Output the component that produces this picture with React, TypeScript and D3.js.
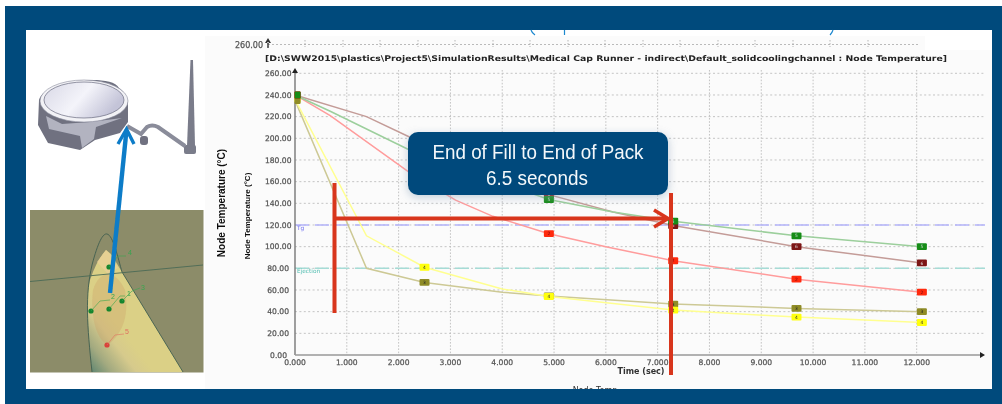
import React from "react";
import * as d3 from "d3";

const title = "[D:\\SWW2015\\plastics\\Project5\\SimulationResults\\Medical Cap Runner - indirect\\Default_solidcoolingchannel : Node Temperature]";
const xTicks = [0, 1, 2, 3, 4, 5, 6, 7, 8, 9, 10, 11, 12];
const yTicks = [0, 20, 40, 60, 80, 100, 120, 140, 160, 180, 200, 220, 240, 260];
const markerTimes = [2.5, 4.9, 7.3, 9.68, 12.1];
const startTime = 0.05;

const brownSeries: [number, number][] = [[0, 240], [1.38, 220], [2.22, 201], [4.9, 148], [6.14, 132], [7.3, 119.5], [9.68, 100], [12.1, 85]];
const greenSeries: [number, number][] = [[0, 240], [0.68, 225], [2.22, 189], [4.9, 143.5], [6.14, 132], [7.3, 123.5], [9.68, 110], [12.1, 100]];
const redSeries: [number, number][] = [[0, 240], [0.68, 221], [2.22, 168], [3.1, 143], [3.82, 128], [4.9, 112], [6, 100], [7.3, 87], [9.68, 70], [12.1, 58]];
const yellowSeries: [number, number][] = [[0, 236], [1.38, 110], [2.5, 81], [4, 61], [4.9, 54], [7.3, 41.5], [9.68, 35], [12.1, 30]];
const oliveSeries: [number, number][] = [[0, 235], [1.38, 80], [2.5, 67], [4, 58], [4.9, 54.5], [7.3, 47], [9.68, 43], [12.1, 40]];

const brown = { id: "6", data: brownSeries, line: "#c49c98", mark: "#7c1414", ink: "#ddd" };
const red = { id: "2", data: redSeries, line: "#ff9c9c", mark: "#ff2a10", ink: "#600" };
const green = { id: "5", data: greenSeries, line: "#9ccf9c", mark: "#128c18", ink: "#ddd" };
const olive = { id: "3", data: oliveSeries, line: "#cdc995", mark: "#8f8c28", ink: "#222" };
const yellow = { id: "4", data: yellowSeries, line: "#ffff90", mark: "#ffff10", ink: "#333" };
const seriesList = [brown, red, green, olive, yellow];
const startOrder = [yellow, olive, brown, red, green];

const referenceLines = [
  { name: "Tg", value: 120, color: "#b4b4fa", ink: "#6a6af0" },
  { name: "Ejection", value: 80, color: "#a6dcd6", ink: "#50bdb0" },
];

const topTicks = [268, 305, 343, 380, 418, 455, 493, 530, 568, 605, 643, 680, 718, 755, 793, 830, 868];
const fill = "#004a7c";

export default function App() {
  const x = d3.scaleLinear().domain([0, 12]).range([295, 916.7]);
  const y = d3.scaleLinear().domain([0, 260]).range([355, 73.3]);
  const line = d3.line<[number, number]>().x((d) => x(d[0])).y((d) => y(d[1]));
  const interp = (data: [number, number][], t: number) =>
    d3.scaleLinear().domain(data.map((d) => d[0])).range(data.map((d) => d[1]))(t);
  const axisFont = { fontFamily: "'DejaVu Sans'", fontSize: 7.6, fill: "#555", stroke: "#555", strokeWidth: 0.25 };
  return (
    <svg width={1002} height={404} viewBox="0 0 1002 404" style={{ position: "fixed", left: 0, top: 0, display: "block", background: "#fff" }}>
      <defs>
        <filter id="soft" x="-5%" y="-5%" width="110%" height="110%"><feGaussianBlur stdDeviation="0.7" /></filter>
        <filter id="soft2" x="-10%" y="-10%" width="120%" height="120%"><feGaussianBlur stdDeviation="0.45" /></filter>
        <filter id="soft3" x="-30%" y="-30%" width="160%" height="160%"><feGaussianBlur stdDeviation="5" /></filter>
        <clipPath id="panel"><rect x={26} y={30} width={966} height={359} /></clipPath>
        <linearGradient id="cone" gradientUnits="userSpaceOnUse" x1="84" y1="372" x2="128" y2="338">
          <stop offset="0" stopColor="#4a7a6c" />
          <stop offset="0.4" stopColor="#a3aa80" />
          <stop offset="0.75" stopColor="#d6ca8c" />
          <stop offset="1" stopColor="#dbd086" />
        </linearGradient>
        <linearGradient id="capTop" x1="0" x2="1" y1="0" y2="0.4">
          <stop offset="0" stopColor="#d8d8e6" />
          <stop offset="0.55" stopColor="#f4f4fa" />
          <stop offset="1" stopColor="#c4c4d8" />
        </linearGradient>
      </defs>

      <rect x={5} y={6} width={997} height={398} fill={fill} />
      <rect x={26} y={30} width={966} height={359} fill="#fff" />
      <rect x={205} y={50} width={787} height={339} fill="#fbfbfb" />
      <rect x={205} y={36} width={720} height={14} fill="#fbfbfb" />

      {/* left illustrations */}
      <g filter="url(#soft)">
        <path d="M190.5 60 L193 60 L195 146 L187 146 Z" fill="#7a7c8a" />
        <rect x={184} y={145} width={12} height={9} rx={2} fill="#7a7c8a" />
        <path d="M127 126 L141 134 L147 127 Q152 124 158 127 L185 146" fill="none" stroke="#8a8c9a" strokeWidth={4} />
        <rect x={140} y={136} width={8} height={9} rx={3} fill="#6f7180" />
        <path d="M39 100 C42 88 70 79 92 80 C105 80 116 82 119 88 C126 93 128 100 128 105 L128 122 L120 133 L95 140 L80 150 L48 143 L38 125 Z" fill="#6f7180" />
        <path d="M46 116 L49 129 L80 136 L82 148 L94 139 L96 127 L122 118 L90 122 L62 124 Z" fill="#b2b3c0" />
        <ellipse cx={84} cy={101} rx={44} ry={21} fill="#f2f2f6" stroke="#8a8c9c" strokeWidth={0.6} />
        <ellipse cx={84} cy={100} rx={40} ry={18} fill="url(#capTop)" stroke="#6a6c80" strokeWidth={0.7} />

        <rect x={30} y={210} width={173.5} height={162.5} fill="#8c8c69" />
        <path d="M92 372 C87 325 86 295 90 280 C94 268 99 258 106 250 L111 254 L122 272 L183 372 Z" fill="url(#cone)" />
        <path d="M93 290 C100 268 116 270 125 290 C130 320 120 335 108 345 C96 340 90 315 93 290 Z" fill="#c99a62" opacity={0.3} />
        <path d="M97 262 L106 250 L112 256 L118 268 L108 274 Z" fill="#e9cf96" opacity={0.8} />
        <path d="M92 372 C87 325 85 295 92 265 C98 242 103 233 107 234 C113 235 118 258 122 272 L183 372" fill="none" stroke="#3f5d4f" strokeWidth={0.9} />
        <line x1={30} y1={281.5} x2={203} y2={265} stroke="#4b6a56" strokeWidth={0.9} />
        <g fill="#13852f">
          <circle cx={109} cy={267} r={2.6} />
          <circle cx={91} cy={311} r={2.6} />
          <circle cx={109} cy={309} r={2.6} />
          <circle cx={122} cy={301} r={2.6} />
        </g>
        <circle cx={107} cy={345} r={2.6} fill="#d9423a" />
        <g fill="none" stroke="#37a64f" strokeWidth={0.6}>
          <path d="M109 267 L118 256 L126 256" />
          <path d="M91 311 L100 301 L110 300" />
          <path d="M109 309 L120 296 L125 296" />
          <path d="M122 301 L132 291 L140 288" />
        </g>
        <path d="M107 345 L115 335 L124 334" fill="none" stroke="#e0705f" strokeWidth={0.6} />
        <g fontFamily="'Liberation Sans'" fontSize={7}>
          <text x={128} y={255} fill="#37a64f">4</text>
          <text x={141} y={290} fill="#37a64f">3</text>
          <text x={111} y={299} fill="#37a64f">2</text>
          <text x={127} y={296} fill="#37a64f">1</text>
          <text x={125} y={334} fill="#e0705f">5</text>
        </g>
      </g>

      {/* chart */}
      <g filter="url(#soft)">
        <text x={263} y={48} textAnchor="end" {...axisFont} fontSize={8}>260.00</text>
        <line x1={268} x2={920} y1={44.5} y2={44.5} stroke="#aaa" strokeDasharray="2 2" strokeWidth={0.8} />
        {topTicks.map((t) => <line key={t} x1={t} x2={t} y1={40} y2={47} stroke="#999" strokeDasharray="1.5 1.5" strokeWidth={0.7} />)}
        <path d="M268 38 L265 43 L271 43 Z M267.3 42 h1.4 v6 h-1.4 Z" fill="#333" />
        <text x={265} y={61} fontFamily="'DejaVu Sans'" fontWeight={700} fontSize={7.75} fill="#222" textLength={682} lengthAdjust="spacingAndGlyphs">{title}</text>

        {yTicks.filter((v) => v > 0).map((v) => (
          <line key={v} x1={x(0)} x2={985} y1={y(v)} y2={y(v)} stroke="#bdbdbd" strokeDasharray="2 2.4" strokeWidth={0.9} />
        ))}
        {xTicks.filter((v) => v > 0).map((v) => (
          <line key={v} x1={x(v)} x2={x(v)} y1={70} y2={355} stroke="#bdbdbd" strokeDasharray="1.6 1.6" strokeWidth={0.9} />
        ))}
        {yTicks.map((v) => (
          <text key={v} x={v >= 100 ? 291.5 : v > 0 ? 289 : 287} y={y(v) + 2.7} textAnchor="end" {...axisFont}>{v.toFixed(2)}</text>
        ))}
        {xTicks.map((v) => (
          <text key={v} x={x(v)} y={364.5} textAnchor="middle" {...axisFont}>{v.toFixed(3)}</text>
        ))}
        <text x={641} y={373.5} textAnchor="middle" fontFamily="'DejaVu Sans'" fontWeight={700} fontSize={8} fill="#333">Time (sec)</text>
        <g clipPath="url(#panel)">
          <text x={595} y={393} textAnchor="middle" fontFamily="'DejaVu Sans'" fontSize={8} fill="#333">Node Temp</text>
        </g>
        <text transform="translate(224.5,203) rotate(-90)" textAnchor="middle" fontFamily="'Liberation Sans'" fontWeight={700} fontSize={10} fill="#111">Node Temperature (°C)</text>
        <text transform="translate(250,216) rotate(-90)" textAnchor="middle" fontFamily="'Liberation Sans'" fontWeight={700} fontSize={8} fill="#111">Node Temperature (°C)</text>

        {referenceLines.map((r) => (
          <g key={r.name}>
            <line x1={x(0)} x2={985} y1={y(r.value)} y2={y(r.value)} stroke={r.color} strokeWidth={1.6} strokeDasharray="14 6" />
            <text x={297} y={y(r.value) + 5} fontFamily="'DejaVu Sans'" fontSize={5.8} fill={r.ink}>{r.name}</text>
          </g>
        ))}

        <line x1={x(0)} x2={x(0)} y1={72} y2={355} stroke="#777" strokeWidth={1.4} />
        <line x1={x(0)} x2={982} y1={355} y2={355} stroke="#999" strokeWidth={1.4} />
        <path d="M295 68 L292 73 L298 73 Z M985 355 L980 352 L980 358 Z" fill="#222" />

        {seriesList.map((s) => (
          <path key={s.id} d={line(s.data) ?? ""} fill="none" stroke={s.line} strokeWidth={1.5} />
        ))}
        {startOrder.map((s) => (
          <rect key={s.id} x={x(startTime) - 3} y={y(s.data[0][1]) - 3.5} width={6} height={7} rx={1} fill={s.mark} />
        ))}
        {seriesList.map((s) => markerTimes.map((t) => {
          const cx = x(t);
          const cy = y(interp(s.data, t));
          return (
            <g key={s.id + t}>
              <rect x={cx - 5} y={cy - 3.4} width={10} height={6.8} rx={1} fill={s.mark} />
              <text x={cx} y={cy + 1.6} textAnchor="middle" fontFamily="'DejaVu Sans'" fontSize={4.4} fill={s.ink}>{s.id}</text>
            </g>
          );
        }))}

        <path d="M531 30 Q532 33 535 35 M564.5 30 V35 M833 30 Q832 33 830 35" fill="none" stroke="#1c88cf" strokeWidth={1.2} />
      </g>

      {/* overlays */}
      <g filter="url(#soft2)">
        <line x1={110} y1={293} x2={126.5} y2={130} stroke="#0a7cc8" strokeWidth={4.4} />
        <path d="M118 144 L126.5 129 L134 144" fill="none" stroke="#0a7cc8" strokeWidth={3.4} />

        <rect x={408} y={135} width={260} height={62} rx={9} fill="#8fa6bd" filter="url(#soft3)" opacity={0.55} />
        <rect x={408} y={132} width={260} height={63} rx={10} fill={fill} />
        <text x={538} y={158.5} textAnchor="middle" fontFamily="'Liberation Sans'" fontSize={20} fill="#f4f8fb" textLength={211} lengthAdjust="spacingAndGlyphs">End of Fill to End of Pack</text>
        <text x={537} y={185} textAnchor="middle" fontFamily="'Liberation Sans'" fontSize={20} fill="#f4f8fb" textLength={102} lengthAdjust="spacingAndGlyphs">6.5 seconds</text>

        <line x1={334.5} x2={334.5} y1={183} y2={313} stroke="#d8341c" strokeWidth={4} />
        <line x1={671} x2={671} y1={193} y2={375} stroke="#d8341c" strokeWidth={4} />
        <line x1={334} x2={667} y1={218.5} y2={218.5} stroke="#d8341c" strokeWidth={4} />
        <path d="M654 210 L668 218.5 L654 227" fill="none" stroke="#d8341c" strokeWidth={3.6} />
      </g>
    </svg>
  );
}
